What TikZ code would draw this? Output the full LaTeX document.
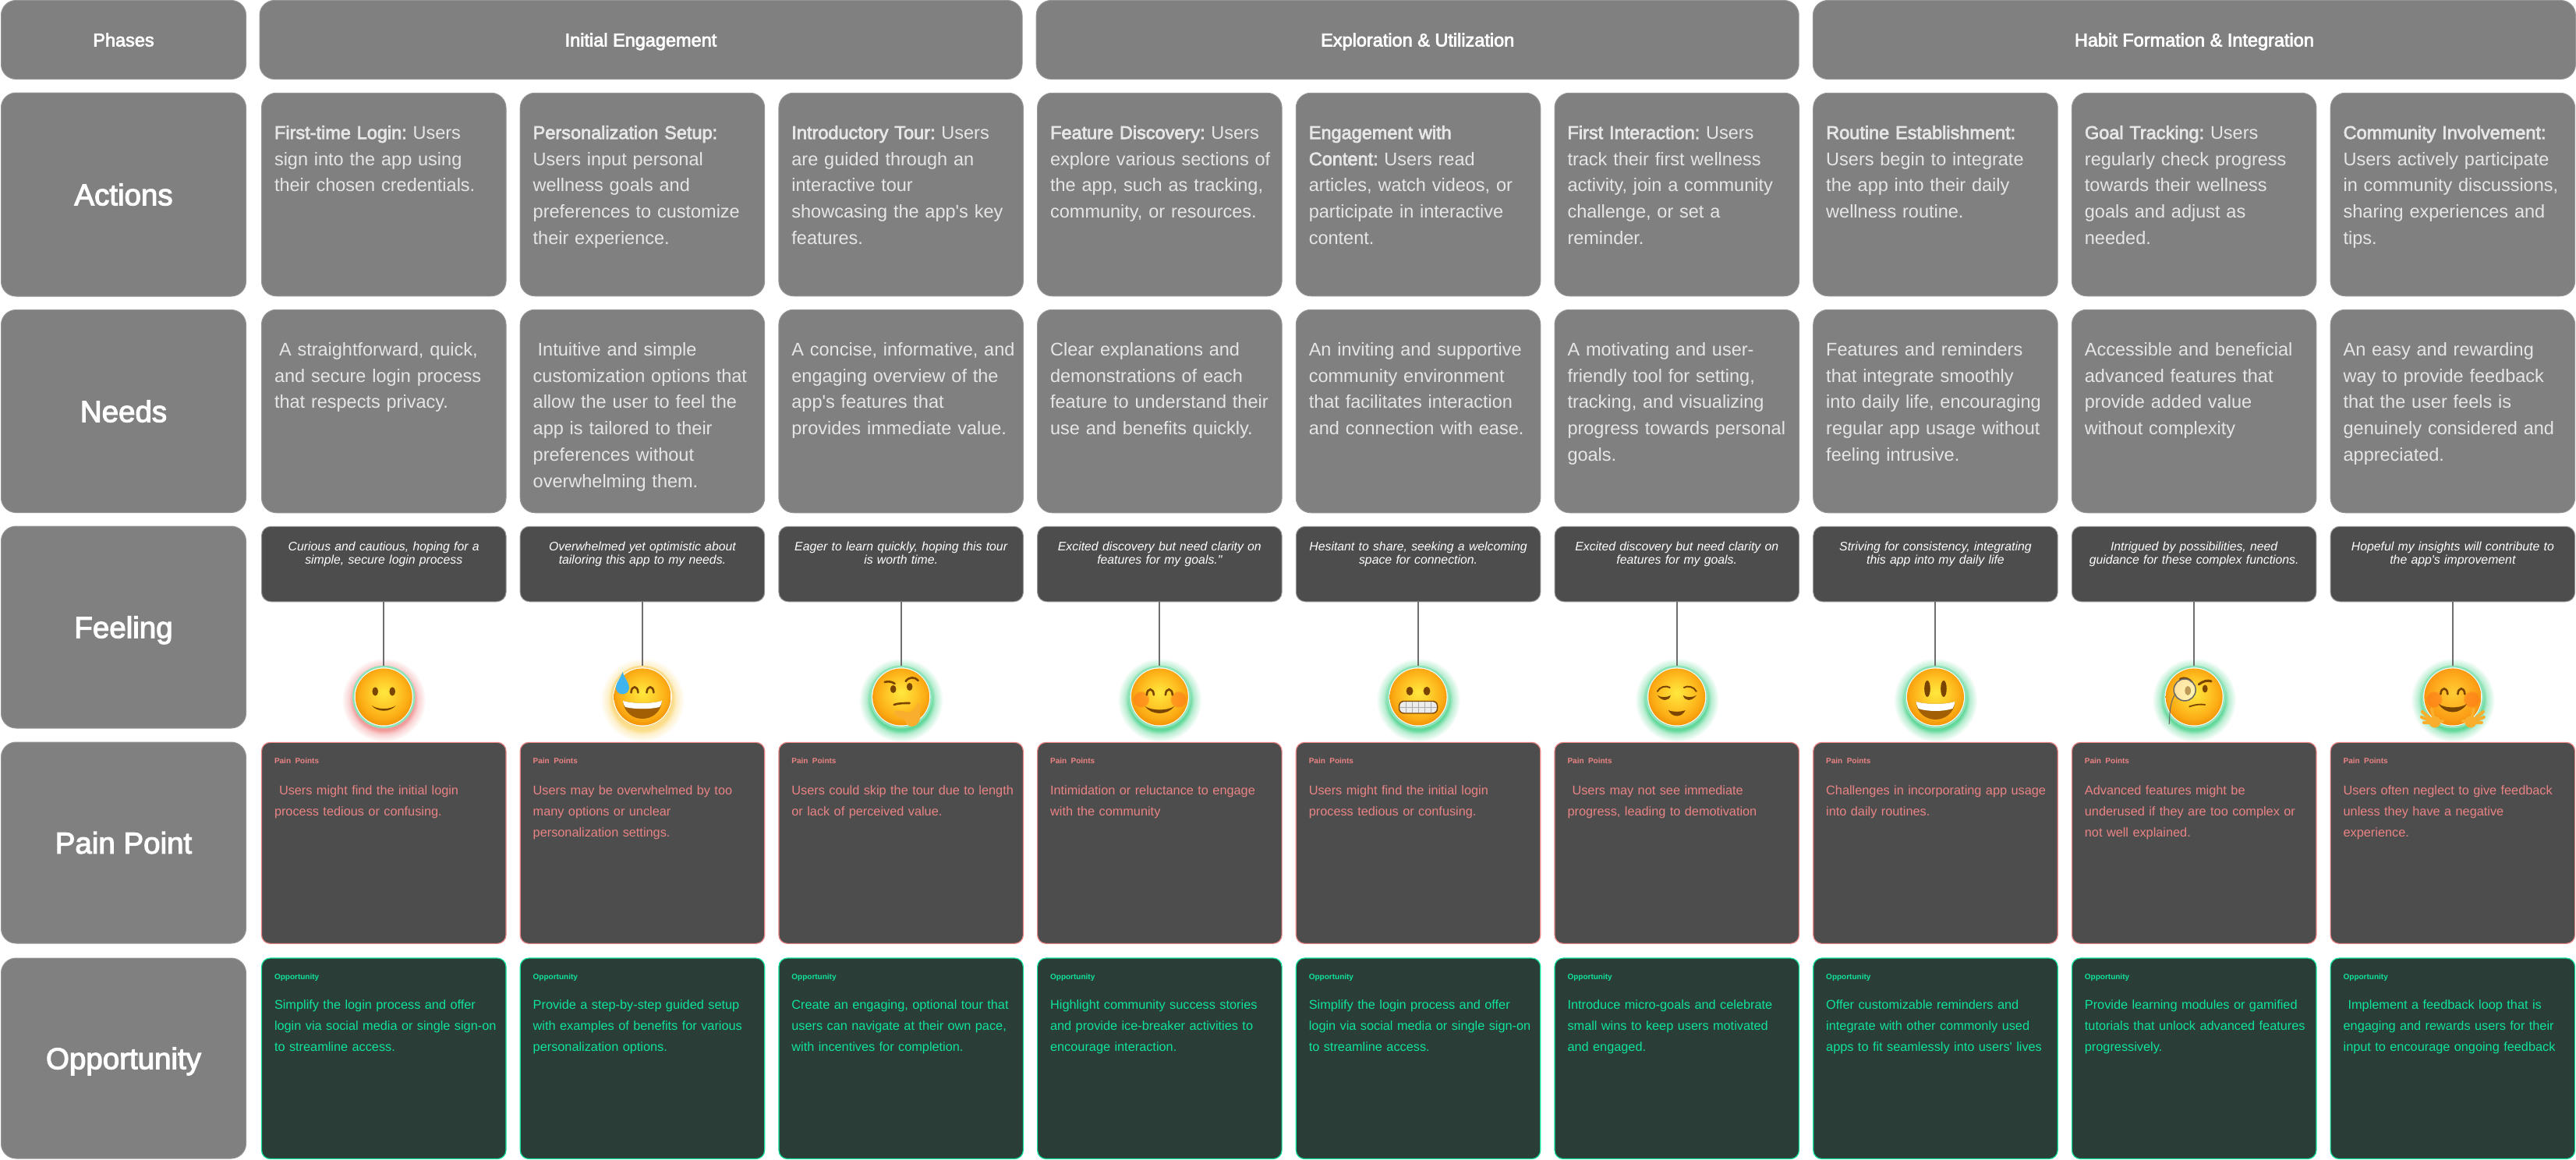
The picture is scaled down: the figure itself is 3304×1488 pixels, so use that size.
\documentclass[tikz,border=0pt]{standalone}
\usepackage{fontspec}
\usepackage{xcolor}
\usetikzlibrary{positioning,fadings}
\newfontfamily\appfont{Liberation Sans}
\newfontfamily\medfont[FakeBold=3]{Liberation Sans}

\definecolor{boxgray}{HTML}{808080}
\definecolor{edgegray}{HTML}{959595}
\definecolor{bodygray}{HTML}{E6E6E6}
\definecolor{darkbox}{HTML}{4D4D4D}
\definecolor{stemgray}{HTML}{6E6E6E}
\definecolor{painred}{HTML}{E98384}
\definecolor{oppbox}{HTML}{2A3D36}
\definecolor{oppgreen}{HTML}{10E39B}
\definecolor{ringgreen}{HTML}{8FE3B8}
\definecolor{ringamber}{HTML}{FADC8C}
\definecolor{glowgreen}{HTML}{62D89A}
\definecolor{glowred}{HTML}{F29A9A}
\definecolor{glowamber}{HTML}{FBDD8A}
\definecolor{facebrown}{HTML}{7A4500}
\definecolor{mouthbrown}{HTML}{A25F04}
\definecolor{handorange}{HTML}{F9AE2E}
\definecolor{blushorange}{HTML}{FF7A1A}
\definecolor{dropblue}{HTML}{3FB4EE}
\definecolor{facelight}{HTML}{FFE83F}
\definecolor{facemid}{HTML}{FFC928}
\definecolor{facelow}{HTML}{FBAA14}
\definecolor{facerim}{HTML}{EE8A00}

\pgfdeclareradialshading{facetone}{\pgfpoint{0bp}{4bp}}{color(0bp)=(facelight); color(12bp)=(facemid); color(22bp)=(facelow); color(29bp)=(facerim); color(50bp)=(facerim)}
\pgfdeclareradialshading{greenhalo}{\pgfpoint{0bp}{0bp}}{color(0bp)=(glowgreen); color(18bp)=(glowgreen); color(20.5bp)=(glowgreen!45!white); color(25bp)=(white); color(50bp)=(white)}
\pgfdeclareradialshading{redhalo}{\pgfpoint{0bp}{0bp}}{color(0bp)=(glowred); color(18bp)=(glowred); color(20.5bp)=(glowred!45!white); color(25bp)=(white); color(50bp)=(white)}
\pgfdeclareradialshading{amberhalo}{\pgfpoint{0bp}{0bp}}{color(0bp)=(glowamber); color(18bp)=(glowamber); color(20.5bp)=(glowamber!45!white); color(25bp)=(white); color(50bp)=(white)}

\tikzset{
  labelbox/.style={draw=edgegray, fill=boxgray, line width=1pt, rounded corners=19pt, minimum width=314pt, inner sep=0pt, text=white, text height=27.6pt, text depth=0pt, font=\medfont\fontsize{38.5}{40}\selectfont},
  phasebox/.style={labelbox, minimum height=101pt, text height=17pt, font=\medfont\fontsize{23.5}{26}\selectfont},
  cellbox/.style={draw=edgegray, fill=boxgray, line width=1pt, rounded corners=19pt, inner xsep=2pt, inner ysep=0pt, text width=309.5pt, execute at begin node={\leftskip=14.5pt\frenchspacing}, text=bodygray, text height=59pt, text depth=201.5pt, font=\appfont\fontsize{23.5}{33.8}\selectfont},
  feelbox/.style={draw=edgegray, fill=darkbox, line width=1pt, rounded corners=12pt, inner xsep=7pt, inner ysep=0pt, text width=299.5pt, align=center, text=white, text height=31.5pt, text depth=65pt, font=\appfont\itshape\fontsize{15.8}{16.4}\selectfont},
  painbox/.style={cellbox, draw=painred, fill=darkbox, line width=1.2pt, rounded corners=11pt, text=painred, text height=27pt, text depth=231pt, font=\appfont\fontsize{16.3}{27}\selectfont},
  oppcell/.style={painbox, draw=oppgreen, fill=oppbox, text=oppgreen, text depth=230.5pt},
  emonode/.style={circle, minimum size=80pt, inner sep=0pt},
  stem/.style={draw=stemgray, line width=2pt},
  arcstroke/.style={draw=facebrown, line width=2.6pt, line cap=round},
  finger/.style={draw=handorange, line width=4pt, line cap=round}
}

\newcommand{\acthead}[1]{{\medfont #1}}
\newcommand{\paintag}{{\fontsize{10}{10}\selectfont\bfseries Pain Points}\\[13pt]}
\newcommand{\opptag}{{\fontsize{10}{10}\selectfont\bfseries Opportunity}\\[11pt]}
\newcommand{\lead}{\hspace*{6pt}}
\newcommand{\emoface}[3]{
  \shade[shading=#3] (#1) ++(0,-4) circle (54pt);
  \draw[draw=#2, fill=white, line width=2.6pt] (#1) circle (39pt);
  \shade[shading=facetone] (#1) circle (36.5pt);
}
\newcommand{\archeye}[2]{\draw[arcstroke, shift={(#1,#2)}] (-4.5,-4.5) .. controls (-4,5) and (4,5) .. (4.5,-4.5);}
\newcommand{\blush}[2]{\fill[blushorange, opacity=.6, path fading=circle with fuzzy edge 20 percent] (#1,#2) circle (11pt);}
\newcommand{\openhand}{
  \draw[finger] (-25,-31) -- (-39,-19);
  \draw[finger] (-25,-32) -- (-40,-26);
  \draw[finger] (-25,-33) -- (-37,-33);
  \draw[finger] (-24,-28) -- (-27,-16);
  \draw[finger] (-23,-32) -- (-13,-31);
  \fill[handorange] (-23,-32) circle (7.5pt);
}

\begin{document}
\begin{tikzpicture}[x=1pt, y=1pt, node distance=16.5pt and 17.2pt]
  \useasboundingbox (0,0) rectangle (3304,-1488);

  \node (phases) [phasebox] at (158.5,-51) {Phases};
  \node (initial) [phasebox, minimum width=978pt, right=16.5pt of phases] {Initial Engagement};
  \node (explore) [phasebox, minimum width=978pt, right=of initial] {Exploration \& Utilization};
  \node (habit) [phasebox, minimum width=978pt, right=of explore] {Habit Formation \& Integration};

  \node (actions) [labelbox, minimum height=261pt, below=of phases] {Actions};
  \node (needs) [labelbox, minimum height=260pt, below=of actions] {Needs};
  \node (feeling) [labelbox, minimum height=259pt, below=of needs] {Feeling};
  \node (painpoint) [labelbox, minimum height=258pt, below=17pt of feeling] {Pain Point};
  \node (opportunity) [labelbox, minimum height=257pt, below=18pt of painpoint] {Opportunity};

  \node (act1) [cellbox, right=19pt of actions] {\acthead{First-time Login:} Users\\sign into the app using\\their chosen credentials.};
  \node (act2) [cellbox, right=of act1] {\acthead{Personalization Setup:}\\Users input personal\\wellness goals and\\preferences to customize\\their experience.};
  \node (act3) [cellbox, right=of act2] {\acthead{Introductory Tour:} Users\\are guided through an\\interactive tour\\showcasing the app's key\\features.};
  \node (act4) [cellbox, right=of act3] {\acthead{Feature Discovery:} Users\\explore various sections of\\the app, such as tracking,\\community, or resources.};
  \node (act5) [cellbox, right=of act4] {\acthead{Engagement with}\\\acthead{Content:} Users read\\articles, watch videos, or\\participate in interactive\\content.};
  \node (act6) [cellbox, right=of act5] {\acthead{First Interaction:} Users\\track their first wellness\\activity, join a community\\challenge, or set a\\reminder.};
  \node (act7) [cellbox, right=of act6] {\acthead{Routine Establishment:}\\Users begin to integrate\\the app into their daily\\wellness routine.};
  \node (act8) [cellbox, right=of act7] {\acthead{Goal Tracking:} Users\\regularly check progress\\towards their wellness\\goals and adjust as\\needed.};
  \node (act9) [cellbox, right=of act8] {\acthead{Community Involvement:}\\Users actively participate\\in community discussions,\\sharing experiences and\\tips.};

  \node (need1) [cellbox, below=of act1] {\lead A straightforward, quick,\\and secure login process\\that respects privacy.};
  \node (need2) [cellbox, below=of act2] {\lead Intuitive and simple\\customization options that\\allow the user to feel the\\app is tailored to their\\preferences without\\overwhelming them.};
  \node (need3) [cellbox, below=of act3] {A concise, informative, and\\engaging overview of the\\app's features that\\provides immediate value.};
  \node (need4) [cellbox, below=of act4] {Clear explanations and\\demonstrations of each\\feature to understand their\\use and benefits quickly.};
  \node (need5) [cellbox, below=of act5] {An inviting and supportive\\community environment\\that facilitates interaction\\and connection with ease.};
  \node (need6) [cellbox, below=of act6] {A motivating and user-\\friendly tool for setting,\\tracking, and visualizing\\progress towards personal\\goals.};
  \node (need7) [cellbox, below=of act7] {Features and reminders\\that integrate smoothly\\into daily life, encouraging\\regular app usage without\\feeling intrusive.};
  \node (need8) [cellbox, below=of act8] {Accessible and beneficial\\advanced features that\\provide added value\\without complexity};
  \node (need9) [cellbox, below=of act9] {An easy and rewarding\\way to provide feedback\\that the user feels is\\genuinely considered and\\appreciated.};

  \node (feel1) [feelbox, below=of need1] {Curious and cautious, hoping for a\\simple, secure login process};
  \node (feel2) [feelbox, below=of need2] {Overwhelmed yet optimistic about\\tailoring this app to my needs.};
  \node (feel3) [feelbox, below=of need3] {Eager to learn quickly, hoping this tour\\is worth time.};
  \node (feel4) [feelbox, below=of need4] {Excited discovery but need clarity on\\features for my goals."};
  \node (feel5) [feelbox, below=of need5] {Hesitant to share, seeking a welcoming\\space for connection.};
  \node (feel6) [feelbox, below=of need6] {Excited discovery but need clarity on\\features for my goals.};
  \node (feel7) [feelbox, below=of need7] {Striving for consistency, integrating\\this app into my daily life};
  \node (feel8) [feelbox, below=of need8] {Intrigued by possibilities, need\\guidance for these complex functions.};
  \node (feel9) [feelbox, below=of need9] {Hopeful my insights will contribute to\\the app's improvement};

  \node (emo1) [emonode, below=81.5pt of feel1] {};
  \node (emo2) [emonode, below=81.5pt of feel2] {};
  \node (emo3) [emonode, below=81.5pt of feel3] {};
  \node (emo4) [emonode, below=81.5pt of feel4] {};
  \node (emo5) [emonode, below=81.5pt of feel5] {};
  \node (emo6) [emonode, below=81.5pt of feel6] {};
  \node (emo7) [emonode, below=81.5pt of feel7] {};
  \node (emo8) [emonode, below=81.5pt of feel8] {};
  \node (emo9) [emonode, below=81.5pt of feel9] {};

  \emoface{emo1}{ringgreen}{redhalo}
  \begin{scope}[shift={(emo1)}]
    \fill[facebrown] (-11,7) ellipse (3.8pt and 5.6pt) (11,7) ellipse (3.8pt and 5.6pt);
    \fill[facebrown] (-15.5,-11) .. controls (-8,-20) and (8,-20) .. (15.5,-11) .. controls (8,-16.5) and (-8,-16.5) .. (-15.5,-11);
  \end{scope}

  \emoface{emo2}{ringamber}{amberhalo}
  \begin{scope}[shift={(emo2)}]
    \archeye{-10}{10}
    \archeye{10}{10}
    \fill[mouthbrown] (-25,-5) .. controls (-12,-9) and (12,-9) .. (25,-5) .. controls (24,-20) and (12,-28) .. (0,-28) .. controls (-12,-28) and (-24,-20) .. (-25,-5);
    \fill[white] (-25,-5) .. controls (-12,-9) and (12,-9) .. (25,-5) .. controls (24.5,-9) and (23,-12) .. (22,-13) .. controls (10,-16) and (-10,-16) .. (-22,-13) .. controls (-23,-12) and (-24.5,-9) .. (-25,-5);
    \fill[dropblue] (-25.5,32) .. controls (-23,24) and (-17,18) .. (-17,12) .. controls (-17,7) and (-21,3.5) .. (-25.5,3.5) .. controls (-30,3.5) and (-34,7) .. (-34,12) .. controls (-34,18) and (-28,24) .. (-25.5,32);
  \end{scope}

  \emoface{emo3}{ringgreen}{greenhalo}
  \begin{scope}[shift={(emo3)}]
    \fill[facebrown] (-10,10) ellipse (3.8pt and 5pt) (11,13) ellipse (3.8pt and 5pt);
    \draw[arcstroke] (-21,19) .. controls (-17,20) and (-12,20) .. (-8,17);
    \draw[arcstroke] (6,20) .. controls (10,26) and (18,26) .. (22,21);
    \draw[arcstroke] (-9,-10) .. controls (-3,-8) and (4,-8) .. (11,-8);
    \fill[handorange] (-8,-18) .. controls (-3,-16) and (6,-20) .. (10,-20) .. controls (16,-18) and (19,-14) .. (21,-8) .. controls (25,-8) and (25,-14) .. (24,-20) .. controls (26,-30) and (22,-37) .. (14,-38) .. controls (9,-38) and (6,-34) .. (4,-29) .. controls (0,-26) and (-8,-26) .. (-9,-21) -- cycle;
  \end{scope}

  \emoface{emo4}{ringgreen}{greenhalo}
  \begin{scope}[shift={(emo4)}]
    \blush{-24}{-3}
    \blush{24}{-3}
    \archeye{-12}{7}
    \archeye{12}{7}
    \fill[facebrown] (-19,-12) .. controls (-10,-24) and (10,-24) .. (19,-12) .. controls (10,-18) and (-10,-18) .. (-19,-12);
  \end{scope}

  \emoface{emo5}{ringgreen}{greenhalo}
  \begin{scope}[shift={(emo5)}]
    \fill[facebrown] (-11,7.5) ellipse (4.4pt and 5.6pt) (11,7.5) ellipse (4.4pt and 5.6pt);
    \draw[draw=facebrown, fill=gray!15, line width=1.4pt, rounded corners=6pt] (-24.5,-5.5) rectangle (24.5,-21);
    \draw[draw=gray!65, line width=.7pt] (-23.5,-13) -- (23.5,-13) (-16,-6) -- (-16,-20.5) (-8,-6) -- (-8,-20.5) (0,-6) -- (0,-20.5) (8,-6) -- (8,-20.5) (16,-6) -- (16,-20.5);
  \end{scope}

  \emoface{emo6}{ringgreen}{greenhalo}
  \begin{scope}[shift={(emo6)}]
    \draw[arcstroke, line width=2pt] (-25,7) .. controls (-22,13) and (-14,15) .. (-9,12);
    \draw[arcstroke, line width=2pt] (25,7) .. controls (22,13) and (14,15) .. (9,12);
    \fill[facebrown] (-25,2) .. controls (-19,-6) and (-10,-6) .. (-8,2) .. controls (-13,-1) and (-20,-1) .. (-25,2);
    \fill[facebrown] (25,2) .. controls (19,-6) and (10,-6) .. (8,2) .. controls (13,-1) and (20,-1) .. (25,2);
    \fill[facebrown] (-11,-17) .. controls (-6,-27) and (6,-27) .. (11,-17) .. controls (6,-19.5) and (-6,-19.5) .. (-11,-17);
  \end{scope}

  \emoface{emo7}{ringgreen}{greenhalo}
  \begin{scope}[shift={(emo7)}]
    \fill[facebrown] (-10.5,10.5) ellipse (3.8pt and 10.5pt) (10.5,10.5) ellipse (3.8pt and 10.5pt);
    \fill[mouthbrown] (-25,-6) .. controls (-12,-10) and (12,-10) .. (25,-6) .. controls (24,-21) and (12,-29) .. (0,-29) .. controls (-12,-29) and (-24,-21) .. (-25,-6);
    \fill[white] (-25,-6) .. controls (-12,-10) and (12,-10) .. (25,-6) .. controls (24.5,-10) and (23,-13) .. (22,-15) .. controls (10,-19) and (-10,-19) .. (-22,-15) .. controls (-23,-13) and (-24.5,-10) .. (-25,-6);
  \end{scope}

  \emoface{emo8}{ringgreen}{greenhalo}
  \begin{scope}[shift={(emo8)}]
    \fill[facebrown] (14,10.5) ellipse (3.4pt and 5pt);
    \draw[arcstroke, line width=3pt] (6,16) .. controls (11,20) and (17,22) .. (22,20);
    \draw[arcstroke] (-18,23) .. controls (-12,26) and (-6,23) .. (-3,19);
    \draw[draw=gray!80!black, fill=white, fill opacity=.6, line width=1.5pt] (-12,9) circle (14pt);
    \fill[facebrown, opacity=.5] (-8,8) ellipse (3.8pt and 6pt);
    \draw[arcstroke, line width=1.8pt] (-6,-12.5) .. controls (0,-10) and (8,-9) .. (14,-10);
    \draw[draw=gray!80!black, line width=1pt] (-24,4) .. controls (-32,-8) and (-31,-24) .. (-32,-35);
  \end{scope}

  \emoface{emo9}{ringgreen}{greenhalo}
  \begin{scope}[shift={(emo9)}]
    \fill[blushorange, opacity=.25] (0,0) circle (36.5pt);
    \blush{-24}{-3}
    \blush{24}{-3}
    \archeye{-11}{8}
    \archeye{11}{8}
    \fill[facebrown] (-18,-9) .. controls (-10,-23) and (10,-23) .. (18,-9) .. controls (10,-15) and (-10,-15) .. (-18,-9);
    \openhand
    \begin{scope}[xscale=-1]
      \openhand
    \end{scope}
  \end{scope}

  \draw[stem] (feel1) -- (emo1);
  \draw[stem] (feel2) -- (emo2);
  \draw[stem] (feel3) -- (emo3);
  \draw[stem] (feel4) -- (emo4);
  \draw[stem] (feel5) -- (emo5);
  \draw[stem] (feel6) -- (emo6);
  \draw[stem] (feel7) -- (emo7);
  \draw[stem] (feel8) -- (emo8);
  \draw[stem] (feel9) -- (emo9);

  \node (pain1) [painbox, below=179.5pt of feel1] {\paintag \lead Users might find the initial login\\process tedious or confusing.};
  \node (pain2) [painbox, below=179.5pt of feel2] {\paintag Users may be overwhelmed by too\\many options or unclear\\personalization settings.};
  \node (pain3) [painbox, below=179.5pt of feel3] {\paintag Users could skip the tour due to length\\or lack of perceived value.};
  \node (pain4) [painbox, below=179.5pt of feel4] {\paintag Intimidation or reluctance to engage\\with the community};
  \node (pain5) [painbox, below=179.5pt of feel5] {\paintag Users might find the initial login\\process tedious or confusing.};
  \node (pain6) [painbox, below=179.5pt of feel6] {\paintag \lead Users may not see immediate\\progress, leading to demotivation};
  \node (pain7) [painbox, below=179.5pt of feel7] {\paintag Challenges in incorporating app usage\\into daily routines.};
  \node (pain8) [painbox, below=179.5pt of feel8] {\paintag Advanced features might be\\underused if they are too complex or\\not well explained.};
  \node (pain9) [painbox, below=179.5pt of feel9] {\paintag Users often neglect to give feedback\\unless they have a negative\\experience.};

  \node (opp1) [oppcell, below=17.5pt of pain1] {\opptag Simplify the login process and offer\\login via social media or single sign-on\\to streamline access.};
  \node (opp2) [oppcell, below=17.5pt of pain2] {\opptag Provide a step-by-step guided setup\\with examples of benefits for various\\personalization options.};
  \node (opp3) [oppcell, below=17.5pt of pain3] {\opptag Create an engaging, optional tour that\\users can navigate at their own pace,\\with incentives for completion.};
  \node (opp4) [oppcell, below=17.5pt of pain4] {\opptag Highlight community success stories\\and provide ice-breaker activities to\\encourage interaction.};
  \node (opp5) [oppcell, below=17.5pt of pain5] {\opptag Simplify the login process and offer\\login via social media or single sign-on\\to streamline access.};
  \node (opp6) [oppcell, below=17.5pt of pain6] {\opptag Introduce micro-goals and celebrate\\small wins to keep users motivated\\and engaged.};
  \node (opp7) [oppcell, below=17.5pt of pain7] {\opptag Offer customizable reminders and\\integrate with other commonly used\\apps to fit seamlessly into users' lives};
  \node (opp8) [oppcell, below=17.5pt of pain8] {\opptag Provide learning modules or gamified\\tutorials that unlock advanced features\\progressively.};
  \node (opp9) [oppcell, below=17.5pt of pain9] {\opptag \lead Implement a feedback loop that is\\engaging and rewards users for their\\input to encourage ongoing feedback};
\end{tikzpicture}
\end{document}
